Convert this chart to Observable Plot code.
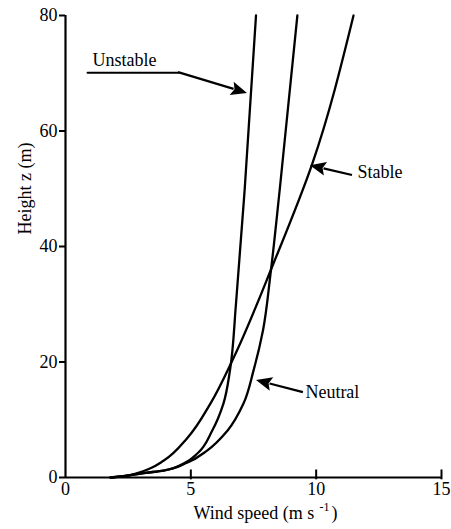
<!DOCTYPE html>
<html>
<head>
<meta charset="utf-8">
<script src="https://cdn.jsdelivr.net/npm/d3@7"></script>
<script src="https://cdn.jsdelivr.net/npm/@observablehq/plot@0.6"></script>
</head>
<body style="margin:0;background:#fff">
<div id="chart"></div>
<script>
// Axis ticks
const windTicks = [0, 5, 10, 15];
const heightTicks = [0, 20, 40, 60, 80];

// Profiles: height z (m) and wind speed u (m/s)
const unstableZ = [0, 0.3, 0.8, 1.2, 2.4, 4.2, 8.1, 12.8, 18.5, 30, 50, 80];
const unstableU = [1.8, 2.4, 3.2, 3.91, 4.71, 5.27, 5.85, 6.30, 6.56, 6.80, 7.15, 7.6];

const neutralZ = [0, 0.3, 0.8, 1.2, 2.6, 4.7, 8.1, 12.8, 18.5, 25.5, 35.3, 50, 80];
const neutralU = [1.8, 2.4, 3.2, 3.91, 4.87, 5.66, 6.46, 7.10, 7.50, 7.88, 8.18, 8.55, 9.25];

const stableZ = [0, 0.3, 0.8, 1.6, 2.9, 6.9, 12.8, 20.3, 37.1, 54.4, 80];
const stableU = [1.8, 2.4, 2.9, 3.39, 3.91, 4.87, 5.78, 6.66, 8.30, 9.85, 11.49];

// Annotations
const labelText = ["Unstable", "Stable", "Neutral"];
const labelU = [1.08, 11.65, 9.57];
const labelZ = [72.3, 52.9, 14.8];
const arrowFromU = [4.51, 11.45, 9.49];
const arrowFromZ = [70.1, 52.3, 14.7];
const arrowToU = [7.26, 9.77, 7.62];
const arrowToZ = [66.5, 54.0, 16.8];
const underlineU = [0.88, 4.51];
const underlineZ = [70.1, 70.1];
const xLabelMain = "Wind speed (m s";
const xLabelSup = "-1";
const xLabelEnd = ")";
const yLabel = "Height z (m)";

const toRows = (us, zs, name) => us.map((u, i) => ({u, z: zs[i], name}));
const profiles = [
  ...toRows(unstableU, unstableZ, "Unstable"),
  ...toRows(neutralU, neutralZ, "Neutral"),
  ...toRows(stableU, stableZ, "Stable")
];
const labels = labelText.map((t, i) => ({t, u: labelU[i], z: labelZ[i]}));
const underline = underlineU.map((u, i) => ({u, z: underlineZ[i]}));

const plot = Plot.plot({
  width: 451,
  height: 529,
  marginTop: 15,
  marginLeft: 65,
  marginRight: 10,
  marginBottom: 52,
  style: {fontSize: "18px", fontFamily: "Liberation Serif"},
  x: {domain: [0, 15]},
  y: {domain: [0, 80]},
  marks: [
    Plot.axisY(heightTicks, {tickSize: 6, tickPadding: 2, label: null, stroke: "#000", strokeWidth: 2, fontSize: 18}),
    Plot.axisX(windTicks, {tickSize: 0, tickPadding: 5, label: null, fontSize: 18}),
    Plot.ruleX(windTicks.slice(1), {y1: -0.4, y2: 1.3, stroke: "#000", strokeWidth: 2}),
    Plot.ruleX([0], {stroke: "#000", strokeWidth: 2.2}),
    Plot.ruleY([0], {stroke: "#000", strokeWidth: 2.2}),
    Plot.line(profiles, {x: "u", y: "z", z: "name", stroke: "#000", strokeWidth: 2.3, curve: "monotone-y"}),
    Plot.line(underline, {x: "u", y: "z", stroke: "#000", strokeWidth: 2}),
    Plot.text(labels, {x: "u", y: "z", text: "t", textAnchor: "start", lineAnchor: "middle", fontSize: 18}),
    Plot.text([yLabel], {frameAnchor: "left", rotate: -90, dx: -40, dy: -12, fontSize: 18, lineAnchor: "middle"}),
    Plot.text([xLabelMain], {frameAnchor: "bottom", textAnchor: "start", lineAnchor: "middle", dx: -60, dy: 36, fontSize: 18}),
    Plot.text([xLabelSup], {frameAnchor: "bottom", textAnchor: "start", lineAnchor: "middle", dx: 66, dy: 30, fontSize: 12}),
    Plot.text([xLabelEnd], {frameAnchor: "bottom", textAnchor: "start", lineAnchor: "middle", dx: 78, dy: 36, fontSize: 18})
  ]
});
document.getElementById("chart").appendChild(plot);

// Filled arrowheads drawn with the plot's own scales
const sx = plot.scale("x"), sy = plot.scale("y");
const fx = sx.apply ? (v) => sx.apply(v) : d3.scaleLinear(sx.domain, sx.range);
const fy = sy.apply ? (v) => sy.apply(v) : d3.scaleLinear(sy.domain, sy.range);
const g = d3.select(plot).append("g").attr("aria-label", "arrows");
const headLen = 16, headHalf = 7;
arrowFromU.forEach((_, i) => {
  const x1 = fx(arrowFromU[i]), y1 = fy(arrowFromZ[i]);
  const x2 = fx(arrowToU[i]), y2 = fy(arrowToZ[i]);
  const dx = x2 - x1, dy = y2 - y1, L = Math.hypot(dx, dy);
  const ux = dx / L, uy = dy / L;
  const bx = x2 - ux * headLen, by = y2 - uy * headLen;
  g.append("line").attr("x1", x1).attr("y1", y1).attr("x2", bx + ux * 2).attr("y2", by + uy * 2)
    .attr("stroke", "#000").attr("stroke-width", 2.2);
  g.append("path")
    .attr("d", `M${x2},${y2}L${bx - uy * headHalf},${by + ux * headHalf}L${bx + ux * 3},${by + uy * 3}L${bx + uy * headHalf},${by - ux * headHalf}Z`)
    .attr("fill", "#000");
});
</script>
</body>
</html>
